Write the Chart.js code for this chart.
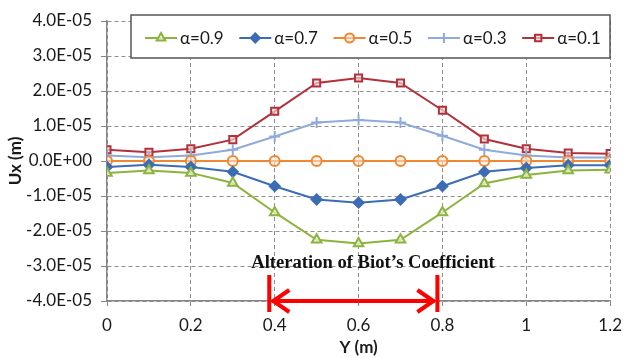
<!DOCTYPE html>
<html>
<head>
<meta charset="utf-8">
<script src="https://cdn.jsdelivr.net/npm/chart.js@4/dist/chart.umd.min.js"></script>
<style>
  html, body { margin: 0; padding: 0; background: #ffffff; }
  #wrap { width: 631px; height: 358px; }
</style>
</head>
<body>
<div id="wrap"><canvas id="c" width="631" height="358"></canvas></div>
<script>
// Position along the section (m)
const yPositions = [0, 0.1, 0.2, 0.3, 0.4, 0.5, 0.6, 0.7, 0.8, 0.9, 1.0, 1.1, 1.2];

// Horizontal displacement Ux (m) for each Biot coefficient
const seriesLabels = ['α=0.9', 'α=0.7', 'α=0.5', 'α=0.3', 'α=0.1'];
const uxAlpha09 = [-3.4e-6, -2.7e-6, -3.4e-6, -6.3e-6, -1.47e-5, -2.25e-5, -2.36e-5, -2.25e-5, -1.47e-5, -6.4e-6, -4.0e-6, -2.7e-6, -2.5e-6];
const uxAlpha07 = [-1.7e-6, -1.1e-6, -1.7e-6, -3.1e-6, -7.2e-6, -1.1e-5, -1.19e-5, -1.1e-5, -7.2e-6, -3.1e-6, -2.0e-6, -1.2e-6, -1.2e-6];
const uxAlpha05 = [0, 0, 0, 0, 0, 0, 0, 0, 0, 0, 0, 0, 0];
const uxAlpha03 = [1.6e-6, 1.1e-6, 1.6e-6, 3.2e-6, 7.0e-6, 1.1e-5, 1.17e-5, 1.1e-5, 7.2e-6, 3.2e-6, 1.6e-6, 1.0e-6, 1.0e-6];
const uxAlpha01 = [3.2e-6, 2.5e-6, 3.5e-6, 6.1e-6, 1.42e-5, 2.23e-5, 2.37e-5, 2.23e-5, 1.45e-5, 6.3e-6, 3.5e-6, 2.3e-6, 2.1e-6];

// Axis tick values
const xTickValues = [0, 0.2, 0.4, 0.6, 0.8, 1, 1.2];
const yTickValues = [-4e-5, -3e-5, -2e-5, -1e-5, 0, 1e-5, 2e-5, 3e-5, 4e-5];

// Zone where the Biot coefficient is altered
const biotZone = [0.387, 0.788];
const biotZoneText = 'Alteration of Biot’s Coefficient';

const seriesValues = [uxAlpha09, uxAlpha07, uxAlpha05, uxAlpha03, uxAlpha01];
const seriesStyles = [
  { color: '#8BB33E', point: 'triangle', radius: 5.5, fill: 'rgba(236,244,222,0.75)' },
  { color: '#3C6DB4', point: 'rectRot',  radius: 5,   fill: '#3C6DB4' },
  { color: '#EF8833', point: 'circle',   radius: 5,   fill: 'rgba(253,234,216,0.55)' },
  { color: '#8FAADB', point: 'cross',    radius: 5.5, fill: '#8FAADB' },
  { color: '#B2323C', point: 'rect',     radius: 5,   fill: 'rgba(244,222,222,0.65)' }
];

function sciLabel(v) {
  if (Math.abs(v) < 1e-15) return '0.0E+00';
  const parts = v.toExponential(1).split('e');
  const exp = parseInt(parts[1], 10);
  const sign = exp < 0 ? '-' : '+';
  return parts[0] + 'E' + sign + String(Math.abs(exp)).padStart(2, '0');
}

const datasets = seriesLabels.map((label, i) => {
  const st = seriesStyles[i];
  return {
    label: label,
    data: yPositions.map((x, k) => ({ x: x, y: seriesValues[i][k] })),
    borderColor: st.color,
    backgroundColor: st.fill,
    borderWidth: 2,
    pointStyle: st.point,
    pointRadius: st.radius,
    pointBorderWidth: 2,
    pointBorderColor: st.color,
    pointBackgroundColor: st.fill,
    tension: 0,
    order: i
  };
});

const FONT = "Lato, 'Open Sans', sans-serif";

// Boxed key across the top of the plot, line + marker + label per series
const seriesKey = {
  id: 'seriesKey',
  afterDraw(chart) {
    const ctx = chart.ctx;
    ctx.save();
    ctx.fillStyle = '#ffffff';
    ctx.fillRect(131, 15, 479, 43);
    ctx.strokeStyle = '#555555';
    ctx.lineWidth = 1.5;
    ctx.strokeRect(131, 15, 479, 43);
    const yMid = 38;
    chart.data.datasets.forEach((ds, i) => {
      const x0 = 145 + i * 94.3;
      ctx.strokeStyle = ds.borderColor;
      ctx.lineWidth = 2;
      ctx.beginPath();
      ctx.moveTo(x0, yMid);
      ctx.lineTo(x0 + 32, yMid);
      ctx.stroke();
      ctx.fillStyle = ds.pointBackgroundColor;
      ctx.strokeStyle = ds.pointBorderColor;
      ctx.lineWidth = 2;
      const opts = { pointStyle: ds.pointStyle, radius: ds.pointRadius * 0.9, borderWidth: 2, rotation: 0 };
      if (Chart.helpers && Chart.helpers.drawPoint) {
        Chart.helpers.drawPoint(ctx, opts, x0 + 16, yMid);
      }
      ctx.fillStyle = '#1a1a1a';
      ctx.font = '17px ' + FONT;
      ctx.textAlign = 'left';
      ctx.textBaseline = 'middle';
      ctx.fillText(ds.label, x0 + 35, yMid + 1);
    });
    ctx.restore();
  }
};

// Marks the altered zone under the curves with a red double arrow
const zoneMarker = {
  id: 'zoneMarker',
  afterDraw(chart) {
    const ctx = chart.ctx;
    const xs = chart.scales.x, ys = chart.scales.y;
    const xa = xs.getPixelForValue(biotZone[0]);
    const xb = xs.getPixelForValue(biotZone[1]);
    const yAxis = ys.bottom;
    ctx.save();
    ctx.strokeStyle = '#FF0000';
    ctx.lineWidth = 4;
    ctx.lineCap = 'butt';
    ctx.beginPath();
    ctx.moveTo(xa, yAxis - 26); ctx.lineTo(xa, yAxis + 11);
    ctx.moveTo(xb, yAxis - 26); ctx.lineTo(xb, yAxis + 11);
    ctx.stroke();
    ctx.beginPath();
    ctx.moveTo(xa + 3, yAxis); ctx.lineTo(xb - 3, yAxis);
    ctx.stroke();
    ctx.lineJoin = 'miter';
    ctx.beginPath();
    ctx.moveTo(xa + 20, yAxis - 11); ctx.lineTo(xa + 4, yAxis); ctx.lineTo(xa + 20, yAxis + 11);
    ctx.moveTo(xb - 20, yAxis - 11); ctx.lineTo(xb - 4, yAxis); ctx.lineTo(xb - 20, yAxis + 11);
    ctx.stroke();
    ctx.fillStyle = '#111111';
    ctx.font = "bold 18.6px 'Liberation Serif', 'Times New Roman', serif";
    ctx.textAlign = 'left';
    ctx.textBaseline = 'alphabetic';
    ctx.fillText(biotZoneText, xs.getPixelForValue(0.344), ys.getPixelForValue(-3e-5) + 2);
    ctx.restore();
  }
};

new Chart(document.getElementById('c'), {
  type: 'line',
  data: { datasets: datasets },
  options: {
    responsive: false,
    animation: false,
    devicePixelRatio: 1,
    layout: { padding: { top: 21, right: 15, left: 0, bottom: 0 } },
    plugins: {
      legend: { display: false },
      tooltip: { enabled: false }
    },
    scales: {
      x: {
        type: 'linear',
        min: 0,
        max: 1.2,
        afterBuildTicks: (s) => { s.ticks = xTickValues.map(v => ({ value: v })); },
        afterFit: (s) => { s.height = 57; },
        ticks: {
          callback: (v) => String(v),
          font: { family: FONT, size: 17 },
          color: '#1a1a1a',
          padding: 9,
          maxRotation: 0
        },
        grid: { color: '#8e8e8e', lineWidth: 1, tickLength: 5, tickColor: '#868686' },
        border: { display: true, color: '#868686', width: 1.5, dash: [4, 3] },
        title: {
          display: true,
          text: 'Y (m)',
          font: { family: FONT, size: 17, weight: 'bold' },
          color: '#1a1a1a',
          padding: { top: 0, bottom: 0 }
        }
      },
      y: {
        type: 'linear',
        min: -4e-5,
        max: 4e-5,
        afterBuildTicks: (s) => { s.ticks = yTickValues.map(v => ({ value: v })); },
        afterFit: (s) => { s.width = 107; },
        ticks: {
          callback: (v) => sciLabel(v),
          font: { family: FONT, size: 17 },
          color: '#1a1a1a',
          padding: 9
        },
        grid: { color: '#8e8e8e', lineWidth: 1, tickLength: 6, tickColor: '#868686' },
        border: { display: true, color: '#868686', width: 1.5, dash: [4, 3] },
        title: {
          display: true,
          text: 'Ux (m)',
          font: { family: FONT, size: 17, weight: 'bold' },
          color: '#1a1a1a',
          padding: { top: 5, bottom: 0 }
        }
      }
    }
  },
  plugins: [seriesKey, zoneMarker]
});
</script>
</body>
</html>
